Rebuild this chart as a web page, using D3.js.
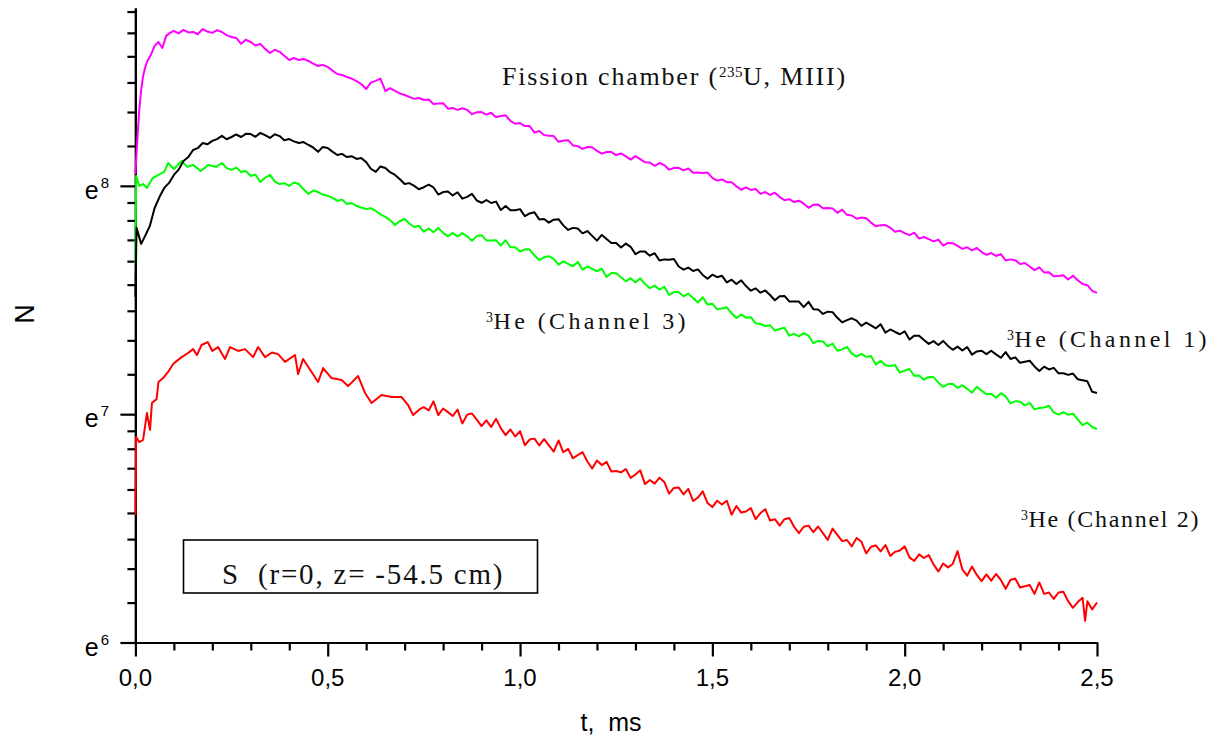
<!DOCTYPE html>
<html><head><meta charset="utf-8">
<script src="https://cdn.jsdelivr.net/npm/d3@7"></script>
<style>body{margin:0;background:#fff}svg{display:block}text{white-space:pre}</style>
</head><body><svg id="c" width="1212" height="737"></svg>
<script>
// x: time t (ms); y values stored as ln(N) (axis is logarithmic, base e)
const xTicks=[0,0.5,1.0,1.5,2.0,2.5];
const xTickLabels=["0,0","0,5","1,0","1,5","2,0","2,5"];
const yTicks=[6,7,8];
const yTickLabels=["6","7","8"];
const xTitle="t,  ms", yTitle="N";

const fissionU235=[[0,8.052],[0.005,8.201],[0.01,8.332],[0.015,8.420],[0.02,8.481],[0.025,8.516],[0.03,8.543],[0.04,8.573],[0.05,8.613],[0.06,8.630],[0.07,8.604],[0.08,8.657],[0.09,8.670],[0.1,8.679],[0.112,8.668],[0.125,8.683],[0.137,8.672],[0.15,8.674],[0.162,8.664],[0.175,8.687],[0.187,8.676],[0.2,8.670],[0.212,8.682],[0.225,8.674],[0.237,8.660],[0.25,8.652],[0.262,8.648],[0.275,8.622],[0.287,8.640],[0.3,8.630],[0.312,8.615],[0.325,8.622],[0.337,8.600],[0.35,8.582],[0.362,8.596],[0.375,8.587],[0.387,8.570],[0.4,8.551],[0.412,8.560],[0.425,8.551],[0.437,8.556],[0.45,8.547],[0.462,8.535],[0.475,8.525],[0.487,8.530],[0.5,8.521],[0.512,8.505],[0.525,8.490],[0.537,8.486],[0.55,8.477],[0.562,8.470],[0.575,8.459],[0.587,8.446],[0.6,8.424],[0.612,8.452],[0.625,8.460],[0.637,8.470],[0.65,8.415],[0.662,8.428],[0.675,8.416],[0.687,8.405],[0.7,8.398],[0.712,8.390],[0.725,8.381],[0.737,8.385],
[0.75,8.376],[0.7625,8.378],[0.775,8.359],[0.7875,8.361],[0.8,8.362],[0.8125,8.338],[0.825,8.341],[0.8375,8.333],[0.85,8.340],[0.8625,8.333],[0.875,8.314],[0.8875,8.322],[0.9,8.323],[0.9125,8.312],[0.925,8.320],[0.9375,8.301],[0.95,8.306],[0.9625,8.309],[0.975,8.285],[0.9875,8.272],[1.0,8.275],[1.0125,8.262],[1.025,8.262],[1.0375,8.233],[1.05,8.240],[1.0625,8.223],[1.075,8.219],[1.0875,8.218],[1.1,8.193],[1.1125,8.198],[1.125,8.200],[1.1375,8.177],[1.15,8.174],[1.1625,8.162],[1.175,8.170],[1.1875,8.169],[1.2,8.153],[1.2125,8.141],[1.225,8.148],[1.2375,8.148],[1.25,8.135],[1.2625,8.142],[1.275,8.129],[1.2875,8.115],[1.3,8.130],[1.3125,8.117],[1.325,8.103],[1.3375,8.102],[1.35,8.088],[1.3625,8.100],[1.375,8.091],[1.3875,8.071],[1.4,8.078],[1.4125,8.079],[1.425,8.068],[1.4375,8.076],[1.45,8.057],[1.4625,8.059],[1.475,8.056],[1.4875,8.058],[1.5,8.035],[1.5125,8.023],[1.525,8.028],[1.5375,8.016],[1.55,8.016],[1.5625,7.998],[1.575,7.983],[1.5875,7.993],[1.6,7.982],[1.6125,7.986],[1.625,7.965],[1.6375,7.973],[1.65,7.960],[1.6625,7.970],[1.675,7.951],[1.6875,7.937],[1.7,7.942],[1.7125,7.929],[1.725,7.935],[1.7375,7.922],[1.75,7.904],[1.7625,7.917],[1.775,7.918],[1.7875,7.902],[1.8,7.903],[1.8125,7.901],[1.825,7.882],[1.8375,7.896],[1.85,7.873],[1.8625,7.870],[1.875,7.856],[1.8875,7.861],[1.9,7.858],[1.9125,7.839],[1.925,7.823],[1.9375,7.828],[1.95,7.828],[1.9625,7.817],[1.975,7.799],[1.9875,7.804],[2.0,7.793],[2.0125,7.784],[2.025,7.795],[2.0375,7.769],[2.05,7.776],[2.0625,7.767],[2.075,7.757],[2.0875,7.764],[2.1,7.738],[2.1125,7.750],[2.125,7.749],[2.1375,7.737],[2.15,7.724],[2.1625,7.731],[2.175,7.717],[2.1875,7.728],[2.2,7.710],[2.2125,7.698],[2.225,7.706],[2.2375,7.693],[2.25,7.701],[2.2625,7.673],[2.275,7.678],[2.2875,7.674],[2.3,7.658],[2.3125,7.662],[2.325,7.647],[2.3375,7.631],[2.35,7.643],[2.3625,7.621],[2.375,7.622],[2.3875,7.604],[2.4,7.605],[2.4125,7.608],[2.425,7.590],[2.4375,7.606],[2.45,7.587],[2.4625,7.570],[2.475,7.565],[2.4875,7.540],[2.5,7.531]];

const he3Channel1=[[0,7.513],[0.003,7.816],[0.015,7.746],[0.025,7.780],[0.0375,7.824],[0.05,7.903],[0.0625,7.951],[0.075,7.991],[0.0875,8.013],[0.1,8.048],[0.112,8.070],[0.125,8.109],[0.137,8.125],[0.15,8.157],[0.162,8.165],[0.175,8.188],[0.187,8.182],[0.2,8.197],[0.212,8.205],[0.225,8.219],[0.237,8.204],[0.25,8.214],[0.262,8.225],[0.275,8.214],[0.287,8.228],[0.3,8.227],[0.312,8.215],[0.325,8.232],[0.337,8.222],[0.35,8.210],[0.362,8.226],[0.375,8.218],[0.387,8.200],[0.4,8.205],[0.412,8.195],[0.425,8.188],[0.437,8.192],[0.45,8.179],[0.462,8.168],[0.475,8.149],[0.487,8.170],[0.5,8.166],[0.512,8.150],[0.525,8.135],[0.537,8.140],[0.55,8.126],[0.562,8.130],[0.575,8.118],[0.587,8.122],[0.6,8.104],[0.612,8.075],[0.625,8.061],[0.637,8.085],[0.65,8.078],[0.662,8.060],[0.675,8.048],[0.687,8.030],[0.7,8.008],[0.712,8.012],[0.725,8.000],[0.737,7.985],
[0.75,7.994],[0.7625,8.005],[0.775,7.993],[0.7875,7.962],[0.8,7.973],[0.8125,7.975],[0.825,7.958],[0.8375,7.972],[0.85,7.944],[0.8625,7.952],[0.875,7.965],[0.8875,7.936],[0.9,7.926],[0.9125,7.938],[0.925,7.925],[0.9375,7.931],[0.95,7.894],[0.9625,7.912],[0.975,7.893],[0.9875,7.893],[1.0,7.898],[1.0125,7.867],[1.025,7.879],[1.0375,7.884],[1.05,7.853],[1.0625,7.855],[1.075,7.839],[1.0875,7.852],[1.1,7.854],[1.1125,7.827],[1.125,7.807],[1.1375,7.816],[1.15,7.813],[1.1625,7.792],[1.175,7.802],[1.1875,7.781],[1.2,7.760],[1.2125,7.785],[1.225,7.767],[1.2375,7.750],[1.25,7.750],[1.2625,7.730],[1.275,7.747],[1.2875,7.733],[1.3,7.701],[1.3125,7.713],[1.325,7.712],[1.3375,7.694],[1.35,7.705],[1.3625,7.673],[1.375,7.678],[1.3875,7.676],[1.4,7.680],[1.4125,7.647],[1.425,7.633],[1.4375,7.642],[1.45,7.627],[1.4625,7.634],[1.475,7.610],[1.4875,7.593],[1.5,7.611],[1.5125,7.600],[1.525,7.606],[1.5375,7.577],[1.55,7.589],[1.5625,7.570],[1.575,7.586],[1.5875,7.561],[1.6,7.541],[1.6125,7.551],[1.625,7.532],[1.6375,7.542],[1.65,7.522],[1.6625,7.499],[1.675,7.517],[1.6875,7.518],[1.7,7.494],[1.7125,7.494],[1.725,7.493],[1.7375,7.469],[1.75,7.492],[1.7625,7.460],[1.775,7.459],[1.7875,7.439],[1.8,7.449],[1.8125,7.447],[1.825,7.422],[1.8375,7.402],[1.85,7.412],[1.8625,7.420],[1.875,7.410],[1.8875,7.387],[1.9,7.401],[1.9125,7.389],[1.925,7.376],[1.9375,7.394],[1.95,7.357],[1.9625,7.371],[1.975,7.360],[1.9875,7.350],[2.0,7.363],[2.0125,7.327],[2.025,7.344],[2.0375,7.344],[2.05,7.325],[2.0625,7.308],[2.075,7.320],[2.0875,7.303],[2.1,7.321],[2.1125,7.299],[2.125,7.282],[2.1375,7.296],[2.15,7.279],[2.1625,7.294],[2.175,7.261],[2.1875,7.275],[2.2,7.278],[2.2125,7.263],[2.225,7.278],[2.2375,7.262],[2.25,7.247],[2.2625,7.272],[2.275,7.242],[2.2875,7.249],[2.3,7.225],[2.3125,7.230],[2.325,7.234],[2.3375,7.209],[2.35,7.189],[2.3625,7.208],[2.375,7.196],[2.3875,7.203],[2.4,7.179],[2.4125,7.179],[2.425,7.172],[2.4375,7.178],[2.45,7.153],[2.4625,7.149],[2.475,7.144],[2.4875,7.098],[2.5,7.093]];

const he3Channel3=[[0,7.653],[0.002,8.043],[0.01,8.000],[0.02,8.008],[0.03,7.991],[0.045,8.034],[0.06,8.048],[0.075,8.061],[0.085,8.100],[0.1,8.074],[0.12,8.109],[0.135,8.083],[0.15,8.092],[0.17,8.065],[0.19,8.092],[0.21,8.083],[0.225,8.100],[0.237,8.078],[0.25,8.070],[0.262,8.080],[0.275,8.061],[0.287,8.065],[0.3,8.043],[0.312,8.050],[0.325,8.017],[0.337,8.035],[0.35,8.048],[0.362,8.020],[0.375,8.008],[0.387,8.012],[0.4,8.000],[0.412,8.015],[0.425,8.008],[0.437,7.985],[0.45,7.964],[0.462,7.980],[0.475,7.973],[0.487,7.962],[0.5,7.956],[0.512,7.948],[0.525,7.934],[0.537,7.940],[0.55,7.921],[0.562,7.925],[0.575,7.912],[0.587,7.905],[0.6,7.899],[0.612,7.902],[0.625,7.890],[0.637,7.875],[0.65,7.864],[0.662,7.850],[0.675,7.829],[0.687,7.845],[0.7,7.855],[0.712,7.835],[0.725,7.820],[0.737,7.825],
[0.75,7.799],[0.7625,7.813],[0.775,7.797],[0.7875,7.816],[0.8,7.794],[0.8125,7.779],[0.825,7.794],[0.8375,7.778],[0.85,7.793],[0.8625,7.779],[0.875,7.759],[0.8875,7.780],[0.9,7.784],[0.9125,7.761],[0.925,7.761],[0.9375,7.762],[0.95,7.738],[0.9625,7.762],[0.975,7.731],[0.9875,7.731],[1.0,7.712],[1.0125,7.722],[1.025,7.721],[1.0375,7.695],[1.05,7.675],[1.0625,7.687],[1.075,7.692],[1.0875,7.680],[1.1,7.655],[1.1125,7.669],[1.125,7.658],[1.1375,7.648],[1.15,7.667],[1.1625,7.633],[1.175,7.647],[1.1875,7.636],[1.2,7.626],[1.2125,7.637],[1.225,7.601],[1.2375,7.618],[1.25,7.617],[1.2625,7.600],[1.275,7.582],[1.2875,7.595],[1.3,7.577],[1.3125,7.595],[1.325,7.570],[1.3375,7.552],[1.35,7.563],[1.3625,7.546],[1.375,7.558],[1.3875,7.523],[1.4,7.535],[1.4125,7.535],[1.425,7.516],[1.4375,7.528],[1.45,7.509],[1.4625,7.489],[1.475,7.512],[1.4875,7.480],[1.5,7.484],[1.5125,7.459],[1.525,7.463],[1.5375,7.468],[1.55,7.442],[1.5625,7.421],[1.575,7.437],[1.5875,7.422],[1.6,7.425],[1.6125,7.398],[1.625,7.395],[1.6375,7.386],[1.65,7.389],[1.6625,7.366],[1.675,7.373],[1.6875,7.379],[1.7,7.344],[1.7125,7.352],[1.725,7.341],[1.7375,7.355],[1.75,7.344],[1.7625,7.311],[1.775,7.321],[1.7875,7.318],[1.8,7.297],[1.8125,7.309],[1.825,7.278],[1.8375,7.284],[1.85,7.295],[1.8625,7.265],[1.875,7.252],[1.8875,7.264],[1.9,7.251],[1.9125,7.255],[1.925,7.217],[1.9375,7.234],[1.95,7.214],[1.9625,7.211],[1.975,7.215],[1.9875,7.182],[2.0,7.191],[2.0125,7.198],[2.025,7.168],[2.0375,7.169],[2.05,7.151],[2.0625,7.163],[2.075,7.162],[2.0875,7.138],[2.1,7.119],[2.1125,7.132],[2.125,7.132],[2.1375,7.115],[2.15,7.127],[2.1625,7.111],[2.175,7.094],[2.1875,7.120],[2.2,7.103],[2.2125,7.087],[2.225,7.089],[2.2375,7.072],[2.25,7.092],[2.2625,7.078],[2.275,7.047],[2.2875,7.057],[2.3,7.055],[2.3125,7.038],[2.325,7.050],[2.3375,7.021],[2.35,7.027],[2.3625,7.029],[2.375,7.037],[2.3875,7.008],[2.4,6.998],[2.4125,7.009],[2.425,6.997],[2.4375,7.002],[2.45,6.977],[2.4625,6.952],[2.475,6.963],[2.4875,6.944],[2.5,6.935]];

const he3Channel2=[[0,6.558],[0.002,6.900],[0.01,6.878],[0.02,6.887],[0.03,7.005],[0.038,6.931],[0.043,7.049],[0.055,7.066],[0.06,7.141],[0.072,7.158],[0.085,7.185],[0.098,7.220],[0.12,7.250],[0.137,7.268],[0.15,7.285],[0.16,7.259],[0.172,7.303],[0.188,7.316],[0.2,7.277],[0.215,7.294],[0.233,7.242],[0.246,7.294],[0.267,7.277],[0.285,7.285],[0.306,7.250],[0.319,7.294],[0.337,7.250],[0.355,7.270],[0.371,7.263],[0.389,7.229],[0.415,7.259],[0.423,7.176],[0.436,7.242],[0.458,7.185],[0.475,7.141],[0.488,7.202],[0.51,7.158],[0.536,7.150],[0.553,7.123],[0.579,7.167],[0.597,7.093],[0.614,7.049],[0.64,7.084],[0.666,7.075],[0.692,7.075],[0.709,7.040],[0.722,6.996],[0.74,7.023],
[0.75,7.031],[0.7625,7.016],[0.775,7.056],[0.7875,6.996],[0.8,7.025],[0.8125,7.009],[0.825,6.992],[0.8375,7.020],[0.85,6.959],[0.8625,6.998],[0.875,7.003],[0.8875,6.976],[0.9,6.948],[0.9125,6.973],[0.925,6.944],[0.9375,6.980],[0.95,6.939],[0.9625,6.908],[0.975,6.933],[0.9875,6.902],[1.0,6.926],[1.0125,6.864],[1.025,6.889],[1.0375,6.893],[1.05,6.863],[1.0625,6.891],[1.075,6.863],[1.0875,6.836],[1.1,6.885],[1.1125,6.833],[1.125,6.848],[1.1375,6.807],[1.15,6.821],[1.1625,6.834],[1.175,6.793],[1.1875,6.762],[1.2,6.797],[1.2125,6.777],[1.225,6.791],[1.2375,6.749],[1.25,6.751],[1.2625,6.745],[1.275,6.760],[1.2875,6.721],[1.3,6.736],[1.3125,6.754],[1.325,6.694],[1.3375,6.712],[1.35,6.696],[1.3625,6.722],[1.375,6.703],[1.3875,6.652],[1.4,6.677],[1.4125,6.679],[1.425,6.649],[1.4375,6.673],[1.45,6.620],[1.4625,6.635],[1.475,6.662],[1.4875,6.611],[1.5,6.593],[1.5125,6.621],[1.525,6.604],[1.5375,6.621],[1.55,6.560],[1.5625,6.598],[1.575,6.569],[1.5875,6.574],[1.6,6.589],[1.6125,6.540],[1.625,6.567],[1.6375,6.584],[1.65,6.534],[1.6625,6.540],[1.675,6.512],[1.6875,6.540],[1.7,6.545],[1.7125,6.507],[1.725,6.479],[1.7375,6.507],[1.75,6.512],[1.7625,6.483],[1.775,6.508],[1.7875,6.479],[1.8,6.449],[1.8125,6.499],[1.825,6.471],[1.8375,6.444],[1.85,6.449],[1.8625,6.421],[1.875,6.458],[1.8875,6.441],[1.9,6.390],[1.9125,6.419],[1.925,6.425],[1.9375,6.399],[1.95,6.427],[1.9625,6.379],[1.975,6.397],[1.9875,6.403],[2.0,6.421],[2.0125,6.373],[2.025,6.357],[2.0375,6.386],[2.05,6.370],[2.0625,6.383],[2.075,6.342],[2.0875,6.311],[2.1,6.346],[2.1125,6.329],[2.125,6.344],[2.1375,6.400],[2.15,6.320],[2.1625,6.293],[2.175,6.333],[2.1875,6.296],[2.2,6.269],[2.2125,6.298],[2.225,6.271],[2.2375,6.300],[2.25,6.274],[2.2625,6.235],[2.275,6.274],[2.2875,6.280],[2.3,6.241],[2.3125,6.246],[2.325,6.252],[2.3375,6.213],[2.35,6.263],[2.3625,6.213],[2.375,6.219],[2.3875,6.191],[2.4,6.219],[2.4125,6.222],[2.425,6.181],[2.4375,6.152],[2.45,6.177],[2.4625,6.196],[2.469,6.095],[2.475,6.181],[2.4875,6.145],[2.5,6.175]];

const svg=d3.select("#c");
const x=d3.scaleLinear().domain([0,2.5]).range([135.4,1097]);
const y=d3.scaleLinear().domain([6,8.779]).range([642.5,8]);
const X0=x(0), Y0=y(6);

// minor ticks
const xMinor=d3.range(0,26).map(i=>i/10).filter(v=>Math.abs(v*2-Math.round(v*2))>1e-6);
const yMinor=[];
[6,7,8].forEach(k=>{const a=Math.exp(k),b=Math.exp(k+1);for(let j=1;j<9;j++){const v=Math.log(a+j*(b-a)/9);if(v<=8.779)yMinor.push(v);}});

const axStyle=g=>{g.selectAll("path,line").attr("stroke","#000").attr("stroke-width",2.2);g.selectAll("text").remove();};
svg.append("g").attr("transform",`translate(0,${Y0})`).call(d3.axisBottom(x).tickValues(xMinor).tickSize(8).tickSizeOuter(0)).call(axStyle);
svg.append("g").attr("transform",`translate(0,${Y0})`).call(d3.axisBottom(x).tickValues(xTicks).tickSize(14).tickSizeOuter(0)).call(axStyle);
svg.append("g").attr("transform",`translate(${X0},0)`).call(d3.axisLeft(y).tickValues(yMinor).tickSize(8).tickSizeOuter(0)).call(axStyle);
svg.append("g").attr("transform",`translate(${X0},0)`).call(d3.axisLeft(y).tickValues(yTicks).tickSize(15).tickSizeOuter(0)).call(axStyle);

const sans="'Liberation Sans',Arial,sans-serif", serif="'Liberation Serif','Times New Roman',serif";
svg.append("g").selectAll("text").data(xTicks).join("text")
 .attr("x",d=>x(d)).attr("y",686).attr("text-anchor","middle")
 .attr("font-family",sans).attr("font-size",24).text((d,i)=>xTickLabels[i]);
const yl=svg.append("g").selectAll("text").data(yTicks).join("text")
 .attr("x",109).attr("y",d=>y(d)+13).attr("text-anchor","end")
 .attr("font-family",sans).attr("font-size",25);
yl.append("tspan").text("e");
yl.append("tspan").attr("font-size",15).attr("dy",-11).attr("dx",2).text((d,i)=>yTickLabels[i]);

svg.append("text").attr("x",611).attr("y",731).attr("text-anchor","middle")
 .attr("font-family",sans).attr("font-size",25).text(xTitle);
svg.append("text").attr("transform","translate(34,314) rotate(-90)").attr("text-anchor","middle")
 .attr("font-family",sans).attr("font-size",27).text(yTitle);

// curves
const line=d3.line().x(d=>x(d[0])).y(d=>y(d[1]));
const series=[[he3Channel3,"#00ff00"],[he3Channel1,"#000000"],[he3Channel2,"#ff0000"],[fissionU235,"#ff00ff"]];
svg.append("g").selectAll("path").data(series).join("path")
 .attr("d",d=>line(d[0])).attr("fill","none").attr("stroke",d=>d[1])
 .attr("stroke-width",2).attr("stroke-linejoin","round");

// annotations
function label(xp,yp,parts,size,ls){
  const t=svg.append("text").attr("x",xp).attr("y",yp).attr("font-family",serif)
    .attr("font-size",size).attr("letter-spacing",ls).attr("fill","#111");
  parts.forEach(p=>{
    const s=t.append("tspan").text(p.t);
    if(p.sup){s.attr("font-size",size*0.58).attr("baseline-shift","super").attr("letter-spacing",0.5);}
  });
}
label(502,85,[{t:"Fission chamber ("},{t:"235",sup:1},{t:"U, MIII)"}],26,1.8);
label(486,329,[{t:"3",sup:1},{t:"He (Channel 3)"}],24,3.4);
label(1007,347,[{t:"3",sup:1},{t:"He (Channel 1)"}],24,3.4);
label(1021,527,[{t:"3",sup:1},{t:"He (Channel 2)"}],24,1.7);

svg.append("rect").attr("x",183.5).attr("y",540).attr("width",354).attr("height",53)
 .attr("fill","none").attr("stroke","#000").attr("stroke-width",1.6);
svg.append("text").attr("x",222).attr("y",584).attr("font-family",serif).attr("font-size",29)
 .attr("letter-spacing",1.8).attr("fill","#111").text("S  (r=0, z= -54.5 cm)");
</script></body></html>
